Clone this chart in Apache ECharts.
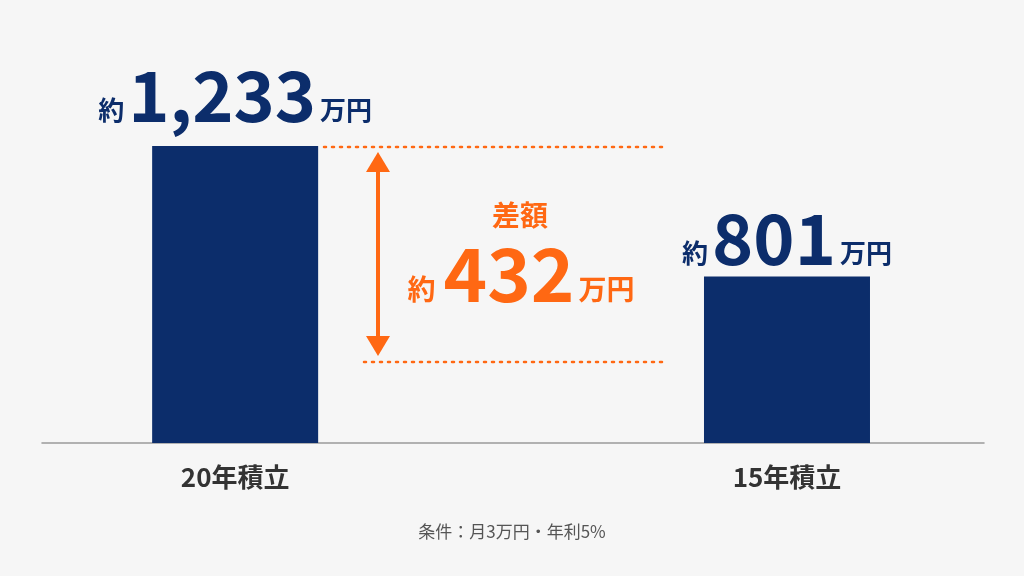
<!DOCTYPE html>
<html>
<head>
<meta charset="utf-8">
<script src="https://cdn.jsdelivr.net/npm/echarts@6/dist/echarts.min.js"></script>
<style>
  html, body { margin: 0; padding: 0; background: #f6f6f6; }
  #chart { width: 1024px; height: 576px; }
</style>
</head>
<body>
<div id="chart"></div>
<script>
const categories = ['20年積立', '15年積立']
const values = [1233, 801]
const gapValue = 432
const gapTitle = '差額'
const note = '条件：月3万円・年利5%'

const NAVY = '#0c2d6b'
const ORANGE = '#ff6813'
const FONT = '"Noto Sans CJK JP", "Noto Sans", sans-serif'
// label gap above each bar differs a bit in the original artwork
const labelGaps = [16, 3]

const chart = echarts.init(document.getElementById('chart'))

const small = (color, pad) => ({
  fontSize: 26, fontWeight: 'bold', color, fontFamily: FONT,
  verticalAlign: 'bottom', padding: pad,
})

chart.setOption({
  backgroundColor: '#f6f6f6',
  animation: false,
  grid: { top: 146, bottom: 133, left: 42, right: 40 },
  xAxis: {
    type: 'value',
    min: -0.35,
    max: 1.357,
    splitLine: { show: false },
    axisTick: { show: false },
    axisLine: { show: true, lineStyle: { color: '#9a9a9a', width: 1.5 } },
    axisLabel: {
      customValues: [0, 1],
      formatter: v => categories[v] ?? '',
      margin: 21,
      color: '#333',
      fontSize: 26,
      fontWeight: 'bold',
      fontFamily: FONT,
    },
  },
  yAxis: { type: 'value', min: 250, max: 1233, show: false },
  series: [{
    type: 'bar',
    barWidth: 166,
    data: values.map((v, i) => ({ value: [i, v], label: { distance: labelGaps[i] } })),
    itemStyle: { color: NAVY },
    label: {
      show: true,
      position: 'top',
      formatter: p => `{pre|約}{num|${p.value[1].toLocaleString('en-US')}}{unit|万円}`,
      rich: {
        pre: small(NAVY, [0, 4, 7, 0]),
        num: { fontSize: 70, fontWeight: 'bold', color: NAVY, fontFamily: FONT, verticalAlign: 'bottom' },
        unit: small(NAVY, [0, 0, 7, 4]),
      },
    },
  }],
})

function drawAnnotations() {
  const yTop = chart.convertToPixel({ yAxisIndex: 0 }, values[0])
  const yBottom = 362
  const ax = 378
  const dots = { stroke: ORANGE, lineWidth: 2.5, lineDash: [2, 6], lineCap: 'round' }
  chart.setOption({
    graphic: [
      { type: 'line', shape: { x1: 324, y1: yTop + 1, x2: 664, y2: yTop + 1 }, style: dots },
      { type: 'line', shape: { x1: 364, y1: yBottom, x2: 664, y2: yBottom }, style: dots },
      { type: 'line', shape: { x1: ax, y1: yTop + 20, x2: ax, y2: yBottom - 20 }, style: { stroke: ORANGE, lineWidth: 4 } },
      { type: 'polygon', shape: { points: [[ax, yTop + 6], [ax - 12, yTop + 26], [ax + 12, yTop + 26]] }, style: { fill: ORANGE } },
      { type: 'polygon', shape: { points: [[ax, yBottom - 6], [ax - 12, yBottom - 26], [ax + 12, yBottom - 26]] }, style: { fill: ORANGE } },
      {
        type: 'text', x: 520, y: 201,
        style: { text: gapTitle, fill: ORANGE, font: `bold 28px ${FONT}`, textAlign: 'center', textVerticalAlign: 'top' },
      },
      {
        type: 'text', x: 521, y: 311,
        style: {
          text: `{pre|約}{num|${gapValue}}{unit|万円}`,
          textAlign: 'center',
          textVerticalAlign: 'bottom',
          rich: {
            pre: { fontSize: 28, fontWeight: 'bold', fill: ORANGE, fontFamily: FONT, verticalAlign: 'bottom', padding: [0, 8, 8, 0] },
            num: { fontSize: 74, fontWeight: 'bold', fill: ORANGE, fontFamily: FONT, verticalAlign: 'bottom' },
            unit: { fontSize: 28, fontWeight: 'bold', fill: ORANGE, fontFamily: FONT, verticalAlign: 'bottom', padding: [0, 0, 8, 4] },
          },
        },
      },
      {
        type: 'text', x: 512, y: 532,
        style: { text: note, fill: '#555', font: `17px ${FONT}`, textAlign: 'center', textVerticalAlign: 'middle' },
      },
    ],
  })
}

drawAnnotations()
</script>
</body>
</html>
